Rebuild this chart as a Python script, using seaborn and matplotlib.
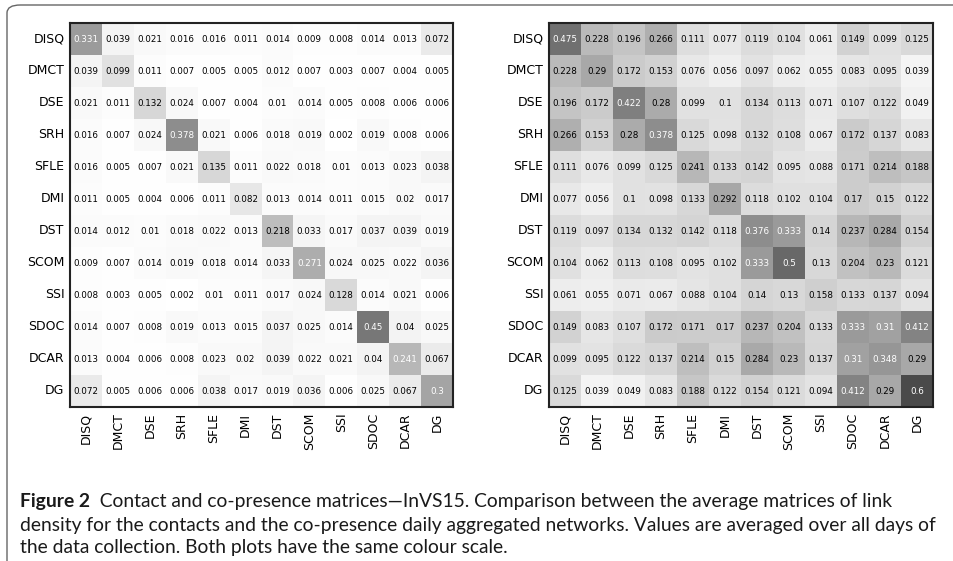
import matplotlib
matplotlib.use("Agg")
import matplotlib.pyplot as plt
from matplotlib.colors import LinearSegmentedColormap
from matplotlib.patches import FancyBboxPatch
import numpy as np
import seaborn as sns

labels = ["DISQ", "DMCT", "DSE", "SRH", "SFLE", "DMI",
          "DST", "SCOM", "SSI", "SDOC", "DCAR", "DG"]

contacts = [
    [0.331, 0.039, 0.021, 0.016, 0.016, 0.011, 0.014, 0.009, 0.008, 0.014, 0.013, 0.072],
    [0.039, 0.099, 0.011, 0.007, 0.005, 0.005, 0.012, 0.007, 0.003, 0.007, 0.004, 0.005],
    [0.021, 0.011, 0.132, 0.024, 0.007, 0.004, 0.01, 0.014, 0.005, 0.008, 0.006, 0.006],
    [0.016, 0.007, 0.024, 0.378, 0.021, 0.006, 0.018, 0.019, 0.002, 0.019, 0.008, 0.006],
    [0.016, 0.005, 0.007, 0.021, 0.135, 0.011, 0.022, 0.018, 0.01, 0.013, 0.023, 0.038],
    [0.011, 0.005, 0.004, 0.006, 0.011, 0.082, 0.013, 0.014, 0.011, 0.015, 0.02, 0.017],
    [0.014, 0.012, 0.01, 0.018, 0.022, 0.013, 0.218, 0.033, 0.017, 0.037, 0.039, 0.019],
    [0.009, 0.007, 0.014, 0.019, 0.018, 0.014, 0.033, 0.271, 0.024, 0.025, 0.022, 0.036],
    [0.008, 0.003, 0.005, 0.002, 0.01, 0.011, 0.017, 0.024, 0.128, 0.014, 0.021, 0.006],
    [0.014, 0.007, 0.008, 0.019, 0.013, 0.015, 0.037, 0.025, 0.014, 0.45, 0.04, 0.025],
    [0.013, 0.004, 0.006, 0.008, 0.023, 0.02, 0.039, 0.022, 0.021, 0.04, 0.241, 0.067],
    [0.072, 0.005, 0.006, 0.006, 0.038, 0.017, 0.019, 0.036, 0.006, 0.025, 0.067, 0.3],
]

copresence = [
    [0.475, 0.228, 0.196, 0.266, 0.111, 0.077, 0.119, 0.104, 0.061, 0.149, 0.099, 0.125],
    [0.228, 0.29, 0.172, 0.153, 0.076, 0.056, 0.097, 0.062, 0.055, 0.083, 0.095, 0.039],
    [0.196, 0.172, 0.422, 0.28, 0.099, 0.1, 0.134, 0.113, 0.071, 0.107, 0.122, 0.049],
    [0.266, 0.153, 0.28, 0.378, 0.125, 0.098, 0.132, 0.108, 0.067, 0.172, 0.137, 0.083],
    [0.111, 0.076, 0.099, 0.125, 0.241, 0.133, 0.142, 0.095, 0.088, 0.171, 0.214, 0.188],
    [0.077, 0.056, 0.1, 0.098, 0.133, 0.292, 0.118, 0.102, 0.104, 0.17, 0.15, 0.122],
    [0.119, 0.097, 0.134, 0.132, 0.142, 0.118, 0.376, 0.333, 0.14, 0.237, 0.284, 0.154],
    [0.104, 0.062, 0.113, 0.108, 0.095, 0.102, 0.333, 0.5, 0.13, 0.204, 0.23, 0.121],
    [0.061, 0.055, 0.071, 0.067, 0.088, 0.104, 0.14, 0.13, 0.158, 0.133, 0.137, 0.094],
    [0.149, 0.083, 0.107, 0.172, 0.171, 0.17, 0.237, 0.204, 0.133, 0.333, 0.31, 0.412],
    [0.099, 0.095, 0.122, 0.137, 0.214, 0.15, 0.284, 0.23, 0.137, 0.31, 0.348, 0.29],
    [0.125, 0.039, 0.049, 0.083, 0.188, 0.122, 0.154, 0.121, 0.094, 0.412, 0.29, 0.6],
]

caption_bold = "Figure 2"
caption_lines = [
    "  Contact and co-presence matrices\u2014InVS15. Comparison between the average matrices of link",
    "density for the contacts and the co-presence daily aggregated networks. Values are averaged over all days of",
    "the data collection. Both plots have the same colour scale.",
]

sns.set_style("white")
plt.rcParams["font.family"] = ["DejaVu Sans"]

cmap = LinearSegmentedColormap.from_list("grey_scale", ["#ffffff", "#4a4a4a"])

fig = plt.figure(figsize=(9.54, 5.61), dpi=100)

# rounded frame around the figure (open to the right / bottom)
frame = FancyBboxPatch((7 / 954, -0.2), 1.2, 0.2 + 556 / 561,
                       boxstyle="round,pad=0,rounding_size=0.014",
                       transform=fig.transFigure, fill=False,
                       edgecolor="#666666", linewidth=1.0)
fig.patches.append(frame)

panels = [(contacts, [70 / 954, 154 / 561, 383 / 954, 384 / 561]),
          (copresence, [549 / 954, 154 / 561, 384 / 954, 384 / 561])]

for data, rect in panels:
    mat = np.array(data)
    ax = fig.add_axes(rect)
    txt = [[f"{v:g}" for v in row] for row in data]
    sns.heatmap(mat, ax=ax, cmap=cmap, vmin=0, vmax=0.6, cbar=False,
                annot=np.array(txt), fmt="", annot_kws={"fontsize": 6.3},
                xticklabels=labels, yticklabels=labels, square=False)
    # light text on dark cells (half of the panel maximum)
    thr = mat.max() / 2
    for t, v in zip(ax.texts, mat.flatten()):
        t.set_color("white" if v > thr else "black")
    ax.tick_params(axis="both", direction="in", length=4, width=0.8,
                   top=True, right=True, bottom=True, left=True,
                   labelsize=9, pad=4, color="black", labelcolor="black")
    ax.set_xticklabels(labels, rotation=90)
    ax.set_yticklabels(labels, rotation=0)
    for s in ax.spines.values():
        s.set_visible(True)
        s.set_color("#222222")
        s.set_linewidth(1.5)

# caption
cap_font = ["Lato", "DejaVu Sans"]
cap_size = 13.9
fig.canvas.draw()
renderer = fig.canvas.get_renderer()
tb = fig.text(20 / 954, 1 - 502 / 561, caption_bold, fontsize=cap_size,
              fontweight="bold", family=cap_font, va="center", ha="left",
              color="#1a1a1a")
bb = tb.get_window_extent(renderer=renderer)
fig.text(bb.x1 / fig.bbox.width, 1 - 502 / 561, caption_lines[0], fontsize=cap_size,
         family=cap_font, va="center", ha="left", color="#1a1a1a")
fig.text(20 / 954, 1 - 525 / 561, caption_lines[1], fontsize=cap_size,
         family=cap_font, va="center", ha="left", color="#1a1a1a")
fig.text(20 / 954, 1 - 548 / 561, caption_lines[2], fontsize=cap_size,
         family=cap_font, va="center", ha="left", color="#1a1a1a")

fig.savefig("out.png", dpi=100)
